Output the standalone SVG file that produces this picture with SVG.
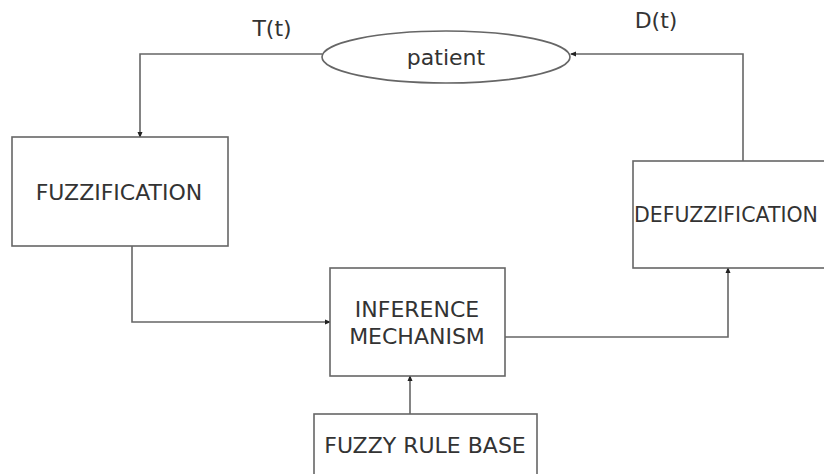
<svg xmlns="http://www.w3.org/2000/svg" width="824" height="474" viewBox="0 0 824 474">
<style>
.box{fill:#fff;stroke:#666;stroke-width:1.6}
.t{font-family:"DejaVu Sans",Verdana,sans-serif;font-size:22px;fill:#333;text-anchor:middle}
.c{fill:none;stroke:#666;stroke-width:1.6}
</style>
<defs>
<marker id="a" viewBox="0 0 6 6" refX="5" refY="3" markerWidth="6" markerHeight="6" markerUnits="userSpaceOnUse" orient="auto">
<path d="M0,0.5 L6,3 L0,5.5 Z" fill="#222"/>
</marker>
</defs>
<rect width="824" height="474" fill="#fff"/>
<g id="connectors">
<path class="c" d="M322,54 H140 V137" marker-end="url(#a)"/>
<path class="c" d="M743,161 V54 H571" marker-end="url(#a)"/>
<path class="c" d="M132,246 V322 H330" marker-end="url(#a)"/>
<path class="c" d="M505,337 H728 V268" marker-end="url(#a)"/>
<path class="c" d="M410,414 V376" marker-end="url(#a)"/>
</g>
<g id="labels">
<text class="t" x="272" y="36">T(t)</text>
<text class="t" x="656" y="28">D(t)</text>
</g>
<g id="patient">
<ellipse class="box" cx="446" cy="57" rx="124" ry="26"/>
<text class="t" x="446" y="65">patient</text>
</g>
<g id="fuzzification">
<rect class="box" x="12" y="137" width="216" height="109"/>
<text class="t" x="119" y="200">FUZZIFICATION</text>
</g>
<g id="defuzzification">
<rect class="box" x="633" y="161" width="220" height="107"/>
<text class="t" x="634" y="222" style="text-anchor:start;font-size:20.5px">DEFUZZIFICATION</text>
</g>
<g id="inference">
<rect class="box" x="330" y="268" width="175" height="108"/>
<text class="t" x="417" y="317">INFERENCE</text>
<text class="t" x="417" y="344">MECHANISM</text>
</g>
<g id="rulebase">
<rect class="box" x="314" y="414" width="223" height="70"/>
<text class="t" x="425" y="453">FUZZY RULE BASE</text>
</g>
</svg>
